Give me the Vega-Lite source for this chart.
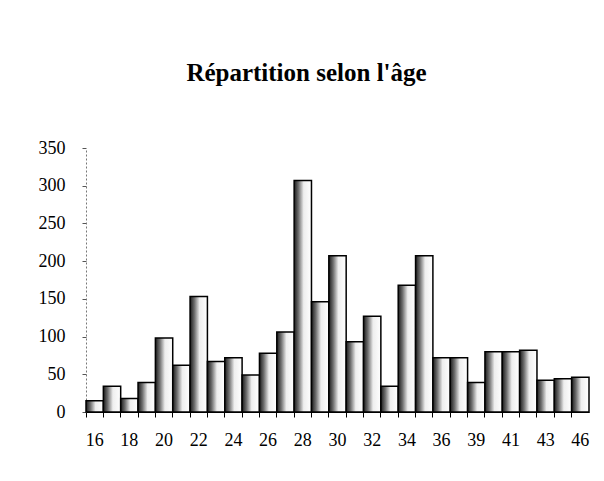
{
  "$schema": "https://vega.github.io/schema/vega-lite/v6.json",
  "autosize": {"type": "none"},
  "padding": {"left": 86, "top": 148, "right": 15, "bottom": 69},
  "width": 503,
  "height": 264,
  "background": "white",
  "title": {
    "text": "Répartition selon l'âge",
    "font": "Liberation Serif",
    "fontSize": 25,
    "fontWeight": "bold",
    "color": "black",
    "anchor": "middle",
    "baseline": "alphabetic",
    "offset": 33,
    "dx": -31
  },
  "data": {
    "values": [
      {"age": 16, "count": 15},
      {"age": 17, "count": 34},
      {"age": 18, "count": 18},
      {"age": 19, "count": 39},
      {"age": 20, "count": 98},
      {"age": 21, "count": 62},
      {"age": 22, "count": 153},
      {"age": 23, "count": 67},
      {"age": 24, "count": 72},
      {"age": 25, "count": 49},
      {"age": 26, "count": 78},
      {"age": 27, "count": 106},
      {"age": 28, "count": 307},
      {"age": 29, "count": 146},
      {"age": 30, "count": 207},
      {"age": 31, "count": 93},
      {"age": 32, "count": 127},
      {"age": 33, "count": 34},
      {"age": 34, "count": 168},
      {"age": 35, "count": 207},
      {"age": 36, "count": 72},
      {"age": 37, "count": 72},
      {"age": 39, "count": 39},
      {"age": 40, "count": 80},
      {"age": 41, "count": 80},
      {"age": 42, "count": 82},
      {"age": 43, "count": 42},
      {"age": 44, "count": 44},
      {"age": 46, "count": 46}
    ]
  },
  "mark": {
    "type": "bar",
    "stroke": "black",
    "strokeWidth": 1.5,
    "color": {
      "gradient": "linear",
      "x1": 0, "y1": 0, "x2": 1, "y2": 0,
      "stops": [
        {"offset": 0, "color": "#1a1a1a"},
        {"offset": 0.25, "color": "#6e6e6e"},
        {"offset": 0.55, "color": "#eeeeee"},
        {"offset": 1, "color": "#ffffff"}
      ]
    }
  },
  "encoding": {
    "x": {
      "field": "age",
      "type": "ordinal",
      "sort": "ascending",
      "scale": {"paddingInner": 0, "paddingOuter": 0},
      "axis": {
        "title": null,
        "bandPosition": 0,
        "labelAngle": 0,
        "labelOverlap": false,
        "labelExpr": "indexof([16,18,20,22,24,26,28,30,32,34,36,39,41,43,46], datum.value) >= 0 ? datum.label : ''",
        "labelFont": "Liberation Serif",
        "labelFontSize": 18,
        "labelColor": "black",
        "labelPadding": 14,
        "domainColor": "black",
        "domainWidth": 1,
        "tickColor": "black",
        "tickSize": 5,
        "tickWidth": 1
      }
    },
    "y": {
      "field": "count",
      "type": "quantitative",
      "scale": {"domain": [0, 350]},
      "axis": {
        "title": null,
        "values": [0, 50, 100, 150, 200, 250, 300, 350],
        "grid": false,
        "labelFont": "Liberation Serif",
        "labelFontSize": 18,
        "labelColor": "black",
        "labelPadding": 17,
        "domainColor": "#777777",
        "domainDash": [2, 2],
        "tickColor": "#555555",
        "tickSize": 4
      }
    }
  },
  "config": {
    "view": {"stroke": null}
  }
}
